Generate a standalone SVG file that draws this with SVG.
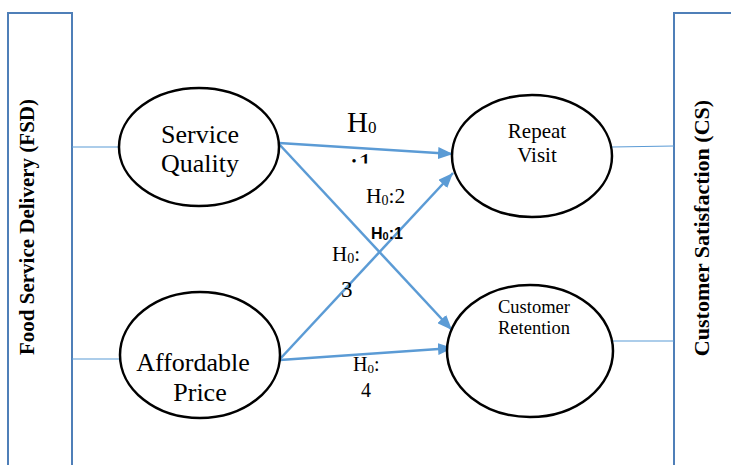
<svg xmlns="http://www.w3.org/2000/svg" width="731" height="465" viewBox="0 0 731 465">
  <defs>
    <style>
      .frame { fill: #ffffff; stroke: #4f7fb8; stroke-width: 2; }
      .link { stroke: #5b9bd5; stroke-width: 1.2; fill: none; }
      .path { stroke: #5b9bd5; stroke-width: 2.5; fill: none; marker-end: url(#arrow); }
      .node { fill: #ffffff; stroke: #000000; stroke-width: 2.5; }
      .serif { font-family: "Liberation Serif", "Times New Roman", serif; fill: #000000; }
      .side { font-family: "Liberation Serif", "Times New Roman", serif; font-weight: bold; fill: #000000; }
    </style>
    <marker id="arrow" markerUnits="userSpaceOnUse" markerWidth="16" markerHeight="12" refX="15" refY="6" orient="auto">
      <path d="M0,0 L15,6 L0,12 Z" fill="#5b9bd5"/>
    </marker>
    <clipPath id="cut-h1">
      <rect x="340" y="140" width="40" height="23.5"/>
    </clipPath>
  </defs>

  <!-- side frames -->
  <g id="fsd">
    <rect class="frame" x="8" y="13" width="64" height="470"/>
    <text class="side" font-size="21" text-anchor="middle" transform="translate(34,227) rotate(-90)">Food Service Delivery (FSD)</text>
  </g>
  <g id="cs">
    <rect class="frame" x="674" y="13" width="70" height="470"/>
    <text class="side" font-size="22" text-anchor="middle" transform="translate(709,228) rotate(-90)">Customer Satisfaction (CS)</text>
  </g>

  <!-- connectors -->
  <g id="connectors">
    <line class="link" x1="72" y1="147" x2="119" y2="147"/>
    <line class="link" x1="72" y1="359" x2="121" y2="359"/>
    <line class="link" x1="612" y1="147" x2="674" y2="146"/>
    <line class="link" x1="613" y1="341" x2="674" y2="341"/>
    <line class="path" x1="279" y1="143" x2="453" y2="154"/>
    <line class="path" x1="279" y1="144" x2="452" y2="330"/>
    <line class="path" x1="280" y1="359" x2="453" y2="173"/>
    <line class="path" x1="280" y1="360" x2="453" y2="348"/>
  </g>

  <!-- hypothesis labels -->
  <g id="labels" class="serif">
    <text x="347" y="132" font-size="29">H<tspan font-size="17" dy="1">0</tspan></text>
    <text x="350" y="173" font-size="29" clip-path="url(#cut-h1)">:1</text>
    <text x="366" y="203" font-size="21.5">H<tspan font-size="14" dy="2">0</tspan><tspan dy="-2">:2</tspan></text>
    <text x="371" y="239" font-family="'Liberation Sans', Arial, sans-serif" font-weight="bold" font-size="16">H<tspan font-size="11" dy="1">0</tspan><tspan dy="-1">:1</tspan></text>
    <text x="332" y="261" font-size="21">H<tspan font-size="14" dy="2">0</tspan><tspan dy="-2">:</tspan></text>
    <text x="341" y="297" font-size="23">3</text>
    <text x="353" y="371" font-size="20">H<tspan font-size="13" dy="2">0</tspan><tspan dy="-2">:</tspan></text>
    <text x="361" y="397" font-size="20">4</text>
  </g>

  <!-- nodes -->
  <g id="service-quality">
    <ellipse class="node" cx="199" cy="147" rx="80" ry="59"/>
    <text class="serif" font-size="26" text-anchor="middle" x="200" y="143">Service</text>
    <text class="serif" font-size="26" text-anchor="middle" x="200" y="172">Quality</text>
  </g>
  <g id="affordable-price">
    <ellipse class="node" cx="200" cy="355" rx="80" ry="63"/>
    <text class="serif" font-size="26" text-anchor="middle" x="193" y="371">Affordable</text>
    <text class="serif" font-size="26" text-anchor="middle" x="200" y="401">Price</text>
  </g>
  <g id="repeat-visit">
    <ellipse class="node" cx="532" cy="156" rx="80" ry="61"/>
    <text class="serif" font-size="21" text-anchor="middle" x="537" y="138">Repeat</text>
    <text class="serif" font-size="21" text-anchor="middle" x="537" y="162">Visit</text>
  </g>
  <g id="customer-retention">
    <ellipse class="node" cx="530" cy="351" rx="83" ry="66"/>
    <text class="serif" font-size="18.5" text-anchor="middle" x="534" y="313">Customer</text>
    <text class="serif" font-size="18.5" text-anchor="middle" x="534" y="334">Retention</text>
  </g>
</svg>
